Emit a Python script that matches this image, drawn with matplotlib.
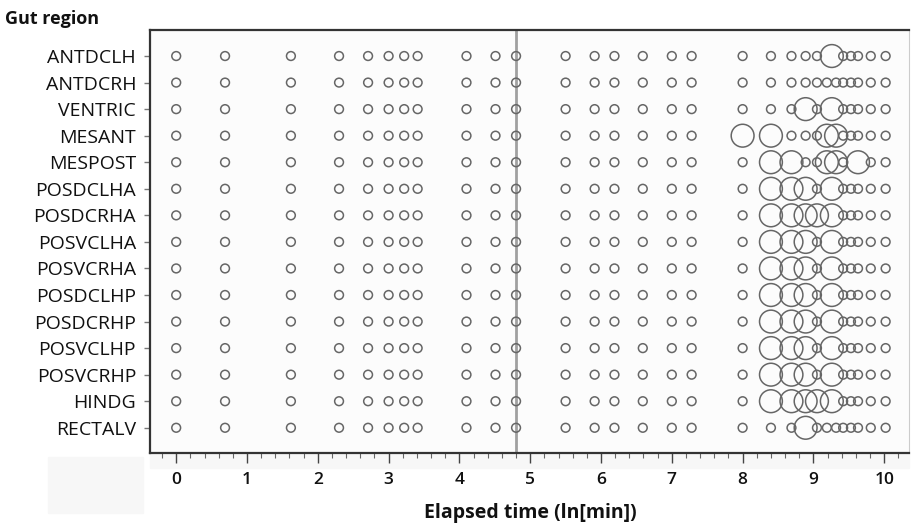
import matplotlib.pyplot as plt
from matplotlib.ticker import MultipleLocator
from matplotlib.patches import Rectangle

plt.rcParams['font.family'] = ['Open Sans', 'DejaVu Sans']

# gut regions, top to bottom
regions = ['ANTDCLH', 'ANTDCRH', 'VENTRIC', 'MESANT', 'MESPOST',
           'POSDCLHA', 'POSDCRHA', 'POSVCLHA', 'POSVCRHA', 'POSDCLHP',
           'POSDCRHP', 'POSVCLHP', 'POSVCRHP', 'HINDG', 'RECTALV']

# sampling times, ln(min)
early_times = [0.0, 0.69, 1.62, 2.30, 2.71, 3.0, 3.22, 3.41, 4.10, 4.51,
               4.80, 5.50, 5.91, 6.19, 6.59, 7.0, 7.28]
late_times = [8.0, 8.40, 8.69, 8.89, 9.05, 9.19, 9.26, 9.32, 9.42, 9.53,
              9.63, 9.81, 10.02]

# relative marker size at the late times (0 = no point), one row per region
late_sizes = {
    'ANTDCLH':  [1, 1, 1, 1, 1, 0, 3, 0, 1, 1, 1, 1, 1],
    'ANTDCRH':  [1, 1, 1, 1, 1, 1, 0, 1, 1, 1, 1, 1, 1],
    'VENTRIC':  [1, 1, 1, 3, 1, 0, 3, 0, 1, 1, 1, 1, 1],
    'MESANT':   [3, 3, 1, 1, 1, 3, 0, 3, 1, 1, 1, 1, 1],
    'MESPOST':  [1, 3, 3, 1, 1, 3, 0, 3, 1, 0, 3, 1, 1],
    'POSDCLHA': [1, 3, 3, 3, 1, 0, 3, 0, 1, 1, 1, 1, 1],
    'POSDCRHA': [1, 3, 3, 3, 3, 0, 3, 0, 1, 1, 1, 1, 1],
    'POSVCLHA': [1, 3, 3, 3, 1, 0, 3, 0, 1, 1, 1, 1, 1],
    'POSVCRHA': [1, 3, 3, 3, 1, 0, 3, 0, 1, 1, 1, 1, 1],
    'POSDCLHP': [1, 3, 3, 3, 1, 0, 3, 0, 1, 1, 1, 1, 1],
    'POSDCRHP': [1, 3, 3, 3, 1, 0, 3, 0, 1, 1, 1, 1, 1],
    'POSVCLHP': [1, 3, 3, 3, 1, 0, 3, 0, 1, 1, 1, 1, 1],
    'POSVCRHP': [1, 3, 3, 3, 1, 0, 3, 0, 1, 1, 1, 1, 1],
    'HINDG':    [1, 3, 3, 3, 3, 0, 3, 0, 1, 1, 1, 1, 1],
    'RECTALV':  [1, 1, 1, 3, 1, 1, 0, 1, 1, 1, 1, 1, 1],
}

marker_line = 4.80

fig = plt.figure(figsize=(9.11, 5.25), dpi=100)
ax = fig.add_axes([150/911, 1 - 453/525, 759/911, 423/525])
ax.set_facecolor('#fcfcfc')

# light grey leftovers below the frame (behind the axes)
fig.patches.append(Rectangle((48/911, 1 - 513/525), 95/911, 56/525,
                             transform=fig.transFigure, color='#f7f7f7', zorder=-1))
fig.patches.append(Rectangle((150/911, 1 - 468/525), 759/911, 15/525,
                             transform=fig.transFigure, color='#f7f7f7', zorder=-1))

xs, ys, ss = [], [], []
for i, r in enumerate(regions):
    for t in early_times:
        xs.append(t); ys.append(i); ss.append(1)
    for t, s in zip(late_times, late_sizes[r]):
        if s > 0:
            xs.append(t); ys.append(i); ss.append(s)

area = [40 if s == 1 else 270 for s in ss]
ax.scatter(xs, ys, s=area, facecolors='none', edgecolors='#666666',
           linewidths=1.1, zorder=3)

ax.axvline(marker_line, color='#a0a0a0', lw=2, zorder=2)

ax.set_xlim(-0.37, 10.35)
ax.set_ylim(14.95, -0.98)
ax.set_yticks(range(len(regions)))
ax.set_yticklabels(regions, fontsize=14, color='#111111')
ax.xaxis.set_major_locator(MultipleLocator(1))
ax.xaxis.set_minor_locator(MultipleLocator(0.2))
ax.tick_params(axis='x', which='major', length=7, width=1, color='#444444',
               labelsize=12.5, pad=7, labelcolor='#111111')
ax.tick_params(axis='x', which='minor', length=3.5, width=0.8, color='#666666')
ax.tick_params(axis='y', length=4, width=1, color='#777777', pad=6)
plt.setp(ax.get_xticklabels(), fontweight='semibold')

for side in ['left', 'top', 'bottom']:
    ax.spines[side].set_color('#333333')
    ax.spines[side].set_linewidth(1.6)
ax.spines['right'].set_color('#cccccc')
ax.spines['right'].set_linewidth(0.8)

fig.text(5/911, 1 - 19/525, 'Gut region', fontsize=13, fontweight='bold',
         va='center', ha='left', color='#111111')
fig.text(530/911, 1 - 513/525, 'Elapsed time (ln[min])', fontsize=14,
         fontweight='bold', va='center', ha='center', color='#111111')

fig.savefig('out.png', dpi=100)
